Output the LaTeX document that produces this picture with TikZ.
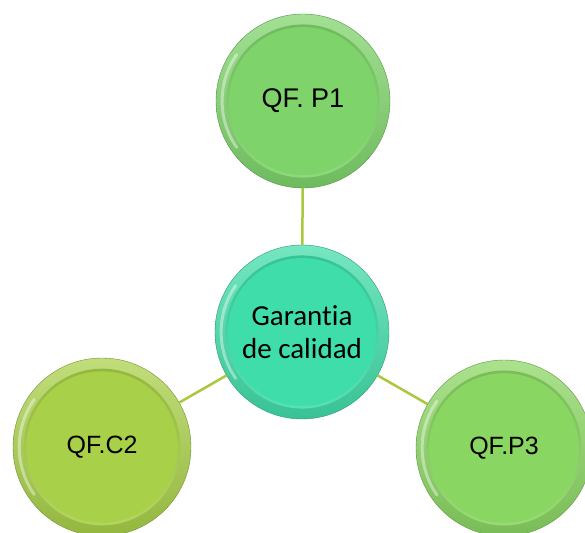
\documentclass[tikz,border=0pt]{standalone}
\usepackage{fontspec}
\usetikzlibrary{calc}
\setmainfont{Liberation Sans}
\newfontfamily\calib[Ligatures=NoCommon]{Carlito}
\definecolor{gTop}{HTML}{7ED46A}
\definecolor{gMid}{HTML}{3FDDA9}
\definecolor{gLeft}{HTML}{A8D048}
\definecolor{gRight}{HTML}{8AD662}
\definecolor{linkcol}{HTML}{A9C83C}
\begin{document}
\begin{tikzpicture}[x=1pt,y=-1pt,
  button/.style 2 args={circle, inner sep=0pt, minimum size=#2, draw=#1!70!black, line width=0.4pt,
    top color=#1!72!white, bottom color=#1!88!black,
    path picture={
      \coordinate (bc) at (path picture bounding box.center);
      % light crescent on the left of the rim
      \draw[white, opacity=0.4, line width=3pt, line cap=round]
        ($(bc)+(145:0.465*#2)$) arc (145:215:0.465*#2);
      % inner face with a soft edge
      \shade[top color=#1!88!black, middle color=#1, bottom color=#1!88!white]
        (bc) circle (0.44*#2);
      \fill[#1] (bc) circle (0.425*#2);
    }},
  link/.style={draw=linkcol, line width=2.5pt},
  lbl/.style={font=\fontsize{25}{29}\selectfont, text=black}
]
\useasboundingbox (0,0) rectangle (585,532);
\fill[white] (0,0) rectangle (585,532);

\node[button={gTop}{174pt}, lbl, font=\fontsize{27}{31}\selectfont] (p1) at (303,101) {QF. P1};
\node[button={gMid}{174pt}, align=center, font=\calib\fontsize{29}{33}\selectfont] (gc) at (302,332) {Garantia\\de calidad};
\node[button={gLeft}{178pt}, lbl] (c2) at (102,447) {QF.C2};
\node[button={gRight}{176pt}, lbl] (p3) at (504,448) {QF.P3};

\draw[link] (p1) -- (gc);
\draw[link] (gc) -- (c2);
\draw[link] (gc) -- (p3);
\end{tikzpicture}
\end{document}
